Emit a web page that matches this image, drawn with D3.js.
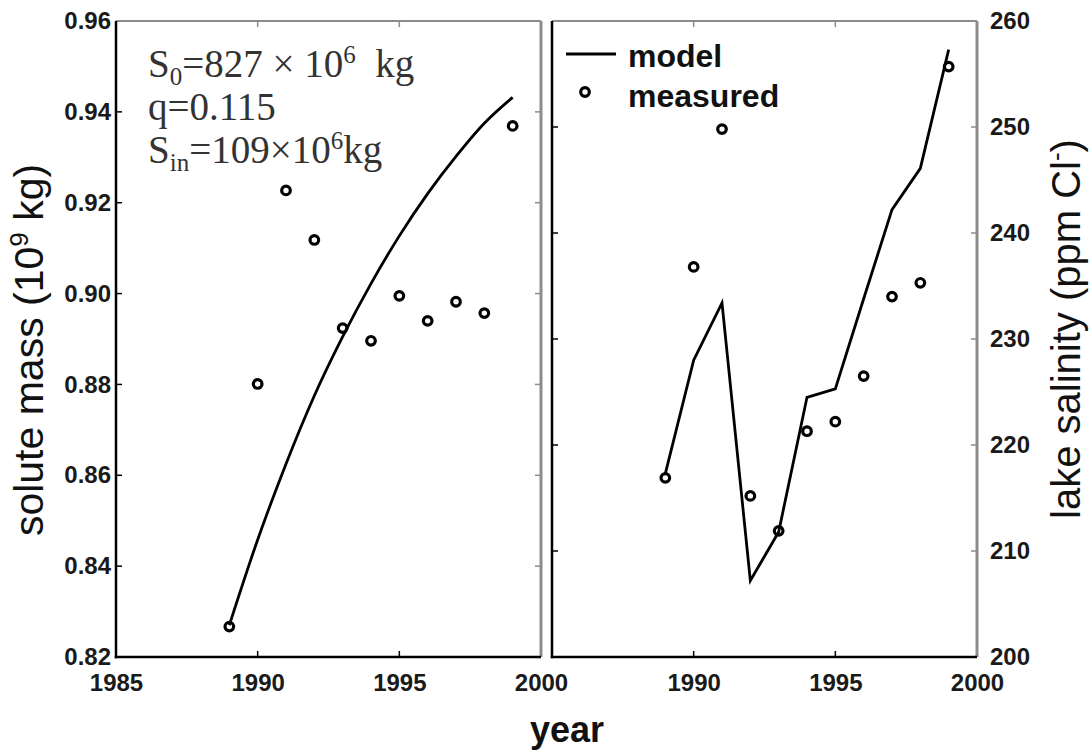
<html>
  <head>
    <meta charset="utf-8">
    <script src="https://cdn.jsdelivr.net/npm/d3@7"></script>
    <style>
      body { margin: 0; background: #fff; }
      svg { display: block; }
      .tick text { font-family: "Liberation Sans", Arial, sans-serif; font-weight: bold; font-size: 24px; fill: #1a1a1a; }
    </style>
  </head>
  <body>
    <div id="main"></div>
  <script>
    // data
    var years = [1989, 1990, 1991, 1992, 1993, 1994, 1995, 1996, 1997, 1998, 1999];
    var massMeasured = [0.8267, 0.8801, 0.9227, 0.9118, 0.8924, 0.8896, 0.8995, 0.8940, 0.8982, 0.8957, 0.9369];
    var massModel = [0.827, 0.8458, 0.8625, 0.8775, 0.8905, 0.9022, 0.9127, 0.9220, 0.9302, 0.9375, 0.9432];
    var salinityMeasured = [216.9, 236.8, 249.8, 215.2, 211.9, 221.3, 222.2, 226.5, 234.0, 235.3, 255.7];
    var salinityModel = [217.3, 228.0, 233.4, 207.2, 211.8, 224.5, 225.3, 233.8, 242.2, 246.1, 257.3];

    var yearTicksLeft = [1985, 1990, 1995, 2000];
    var yearTicksRight = [1990, 1995, 2000];
    var massTicks = [0.82, 0.84, 0.86, 0.88, 0.90, 0.92, 0.94, 0.96];
    var salinityTicks = [200, 210, 220, 230, 240, 250, 260];

    var svgWidth = 1091;
    var svgHeight = 756;
    var plotTop = 21, plotBottom = 657;

    var svg = d3.select("#main")
      .append("svg")
      .attr("width", svgWidth)
      .attr("height", svgHeight);

    var xL = d3.scaleLinear().domain([1985, 2000]).range([116, 541]);
    var yL = d3.scaleLinear().domain([0.82, 0.96]).range([plotBottom, plotTop]);
    var xR = d3.scaleLinear().domain([1985, 2000]).range([552, 977]);
    var yR = d3.scaleLinear().domain([200, 260]).range([plotBottom, plotTop]);

    var grey = "#8c8c8c";

    // box with black left/bottom and grey top/right, inward ticks on all sides
    function drawBox(x, y, xTicks, yTicks) {
      var x0 = x.range()[0], x1 = x.range()[1];
      var y0 = y.range()[1], y1 = y.range()[0];
      var g = svg.append("g");
      g.append("line").attr("x1", x0).attr("x2", x1).attr("y1", y0).attr("y2", y0)
        .style("stroke", grey).style("stroke-width", 2);
      g.append("line").attr("x1", x1).attr("x2", x1).attr("y1", y0).attr("y2", y1)
        .style("stroke", grey).style("stroke-width", 3);
      g.append("line").attr("x1", x0).attr("x2", x0).attr("y1", y0).attr("y2", y1 + 1.25)
        .style("stroke", "#000").style("stroke-width", 2.5);
      g.append("line").attr("x1", x0 - 1.25).attr("x2", x1).attr("y1", y1).attr("y2", y1)
        .style("stroke", "#000").style("stroke-width", 2.5);
      var inner = xTicks.filter(function(t) { return t > x.domain()[0] && t < x.domain()[1]; });
      g.selectAll(".xt").data(inner).enter().append("line")
        .attr("x1", x).attr("x2", x).attr("y1", y1).attr("y2", y1 - 6)
        .style("stroke", "#000").style("stroke-width", 1.5);
      g.selectAll(".xtt").data(inner).enter().append("line")
        .attr("x1", x).attr("x2", x).attr("y1", y0).attr("y2", y0 + 6)
        .style("stroke", grey).style("stroke-width", 1.5);
      var innerY = yTicks.filter(function(t) { return t > y.domain()[0] && t < y.domain()[1]; });
      g.selectAll(".yt").data(innerY).enter().append("line")
        .attr("x1", x0).attr("x2", x0 + 6).attr("y1", y).attr("y2", y)
        .style("stroke", "#000").style("stroke-width", 1.5);
      g.selectAll(".ytr").data(innerY).enter().append("line")
        .attr("x1", x1).attr("x2", x1 - 6).attr("y1", y).attr("y2", y)
        .style("stroke", grey).style("stroke-width", 1.5);
    }

    drawBox(xL, yL, yearTicksLeft, massTicks);
    drawBox(xR, yR, yearTicksLeft, salinityTicks);

    // tick labels through d3 axes (tick lines drawn above)
    function axisLabels(axis, transform) {
      var g = svg.append("g").attr("transform", transform).call(axis);
      g.select(".domain").remove();
      g.selectAll(".tick line").remove();
      return g;
    }
    axisLabels(d3.axisBottom(xL).tickValues(yearTicksLeft).tickFormat(d3.format("d")).tickSize(0).tickPadding(17),
      "translate(0," + plotBottom + ")");
    axisLabels(d3.axisBottom(xR).tickValues(yearTicksRight).tickFormat(d3.format("d")).tickSize(0).tickPadding(17),
      "translate(0," + plotBottom + ")");
    axisLabels(d3.axisLeft(yL).tickValues(massTicks).tickFormat(d3.format(".2f")).tickSize(0).tickPadding(5),
      "translate(116,0)");
    axisLabels(d3.axisRight(yR).tickValues(salinityTicks).tickFormat(d3.format("d")).tickSize(0).tickPadding(13),
      "translate(977,0)");

    // model lines
    var lineL = d3.line()
      .x(function(d, i) { return xL(years[i]); })
      .y(function(d) { return yL(d); })
      .curve(d3.curveMonotoneX);
    svg.append("path").datum(massModel).attr("d", lineL)
      .style("fill", "none").style("stroke", "#000").style("stroke-width", 2.8);

    var lineR = d3.line()
      .x(function(d, i) { return xR(years[i]); })
      .y(function(d) { return yR(d); });
    svg.append("path").datum(salinityModel).attr("d", lineR)
      .style("fill", "none").style("stroke", "#000").style("stroke-width", 2.8);

    // measured circles
    svg.selectAll(".mL").data(massMeasured).enter().append("circle")
      .attr("cx", function(d, i) { return xL(years[i]); })
      .attr("cy", function(d) { return yL(d); })
      .attr("r", 4.3)
      .style("fill", "none").style("stroke", "#000").style("stroke-width", 3.2);
    svg.selectAll(".mR").data(salinityMeasured).enter().append("circle")
      .attr("cx", function(d, i) { return xR(years[i]); })
      .attr("cy", function(d) { return yR(d); })
      .attr("r", 4.3)
      .style("fill", "none").style("stroke", "#000").style("stroke-width", 3.2);

    // legend
    svg.append("line").attr("x1", 566).attr("x2", 616).attr("y1", 54).attr("y2", 54)
      .style("stroke", "#000").style("stroke-width", 3);
    svg.append("circle").attr("cx", 585).attr("cy", 92).attr("r", 4.3)
      .style("fill", "none").style("stroke", "#000").style("stroke-width", 3.2);
    svg.append("text").attr("x", 628).attr("y", 67).text("model")
      .style("font-family", "Liberation Sans, Arial, sans-serif").style("font-weight", "bold")
      .style("font-size", "32px").style("fill", "#111");
    svg.append("text").attr("x", 628).attr("y", 107).text("measured")
      .style("font-family", "Liberation Sans, Arial, sans-serif").style("font-weight", "bold")
      .style("font-size", "32px").style("fill", "#111");

    // parameter annotation
    var note = svg.append("text")
      .style("font-family", "Liberation Serif, Times New Roman, serif")
      .style("font-size", "39px").style("fill", "#333");
    var l1 = note.append("tspan").attr("x", 148).attr("y", 77);
    l1.append("tspan").text("S");
    l1.append("tspan").attr("dy", 8).style("font-size", "25px").text("0");
    l1.append("tspan").attr("dy", -8).text("=827 × 10");
    l1.append("tspan").attr("dy", -14).style("font-size", "25px").text("6");
    l1.append("tspan").attr("dy", 14).text("\u00a0 kg");
    note.append("tspan").attr("x", 148).attr("y", 120).text("q=0.115");
    var l3 = note.append("tspan").attr("x", 148).attr("y", 163);
    l3.append("tspan").text("S");
    l3.append("tspan").attr("dy", 8).style("font-size", "25px").text("in");
    l3.append("tspan").attr("dy", -8).text("=109×10");
    l3.append("tspan").attr("dy", -14).style("font-size", "25px").text("6");
    l3.append("tspan").attr("dy", 14).text("kg");

    // axis titles
    var yTitleL = svg.append("text")
      .attr("transform", "translate(43,350) rotate(-90)")
      .attr("text-anchor", "middle")
      .style("font-family", "Liberation Sans, Arial, sans-serif")
      .style("font-size", "41px").style("fill", "#111");
    yTitleL.append("tspan").text("solute mass (10");
    yTitleL.append("tspan").attr("dy", -15).style("font-size", "26px").text("9");
    yTitleL.append("tspan").attr("dy", 15).text(" kg)");

    var yTitleR = svg.append("text")
      .attr("transform", "translate(1080,329) rotate(-90)")
      .attr("text-anchor", "middle")
      .style("font-family", "Liberation Sans, Arial, sans-serif")
      .style("font-size", "40px").style("fill", "#111");
    yTitleR.append("tspan").text("lake salinity (ppm Cl");
    yTitleR.append("tspan").attr("dy", -15).style("font-size", "26px").text("-");
    yTitleR.append("tspan").attr("dy", 15).text(")");

    svg.append("text").attr("x", 567).attr("y", 742)
      .attr("text-anchor", "middle").text("year")
      .style("font-family", "Liberation Sans, Arial, sans-serif").style("font-weight", "bold")
      .style("font-size", "36px").style("fill", "#111");
  </script>
  </body>
</html>
